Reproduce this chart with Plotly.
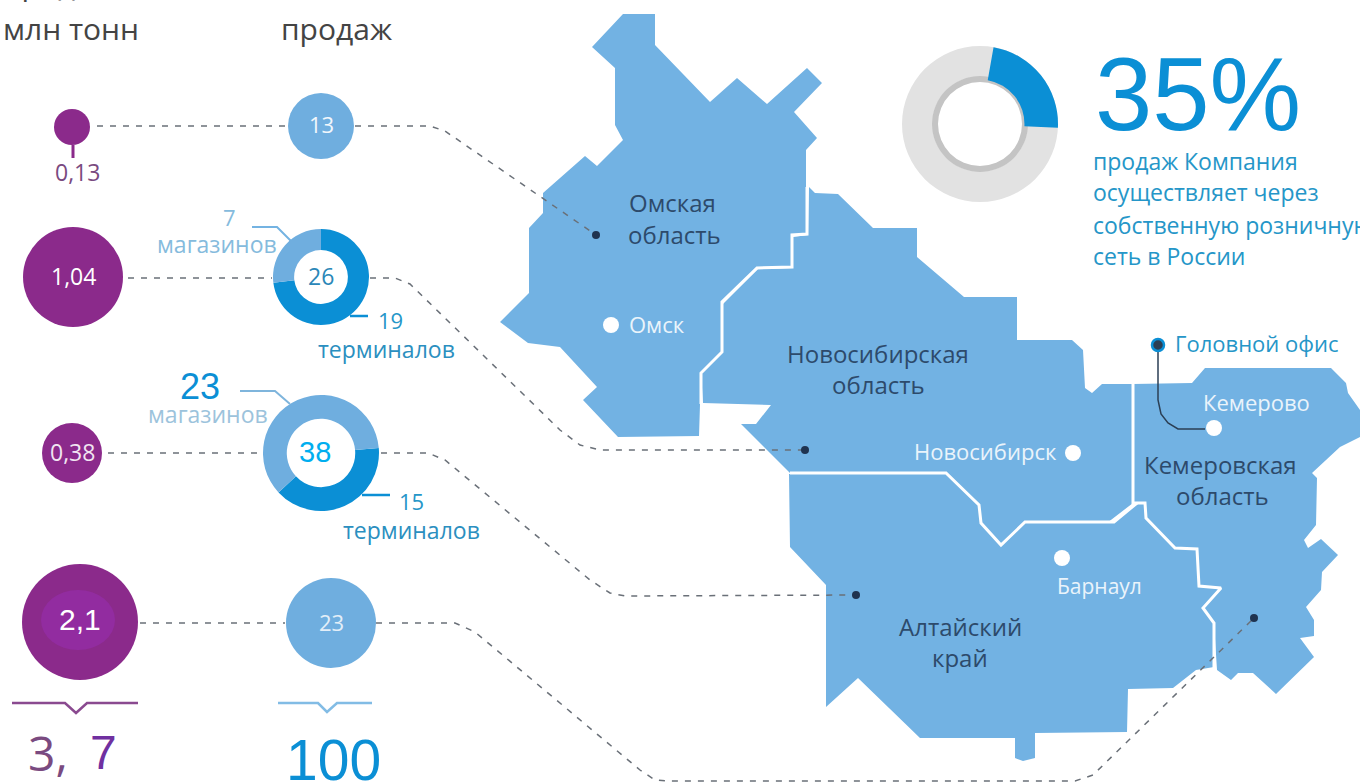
import plotly.graph_objects as go

W, H = 1360, 783

# ---------- values ----------
volume_labels = ["0,13", "1,04", "0,38", "2,1"]
sales_labels = ["13", "26", "38", "23"]
donut26_values = [19, 7]
donut38_values = [15, 23]
share_values = [23, 77]          # arc as drawn in the picture (labelled 35 %)

# ---------- colours ----------
MAP = "#72B2E3"
PURPLE = "#8B2A8B"
LIGHT = "#6FAEDF"
DARK = "#0B8FD5"
TEAL = "#2596C8"
NAVY = "#2D4A6B"

# ---------- map regions ----------
omsk_x = [623,655,655,710,737,767,807,822,794,817,806,806,792,792,757,722,722,701,699,618,583,597,560,528,500,529,529,543,543,585,597,623,615,615,592]
omsk_y = [14,14,45,102,78,104,68,83,112,138,150,233,235,267,268,302,352,373,436,437,400,387,347,343,322,293,228,213,193,156,166,140,125,68,47]

novo_x = [809,815,838,873,917,917,964,1017,1017,1072,1083,1085,1092,1102,1133,1133,1107,1025,999,978,976,942,790,741,756,771,703,701,722,722,758,793,793,808]
novo_y = [187,193,194,228,228,257,297,297,340,340,350,388,393,384,384,503,523,523,545,523,503,473,473,424,424,405,403,372,350,305,269,268,237,235]

altai_x = [789,790,826,826,858,920,1015,1015,1023,1035,1035,1127,1128,1173,1196,1214,1214,1203,1221,1199,1197,1175,1146,1145,1137,1114,1025,1001,981,979,946]
altai_y = [474,547,585,707,678,738,738,758,761,758,733,732,689,688,670,667,623,608,588,586,549,548,518,503,503,522,522,545,523,505,473]

kem_x = [1133,1192,1205,1331,1346,1348,1360,1360,1340,1312,1317,1316,1304,1308,1321,1338,1322,1321,1306,1314,1314,1300,1314,1276,1253,1238,1231,1217,1214,1203,1221,1199,1197,1175,1146,1145,1137,1133]
kem_y = [384,383,368,368,383,393,410,437,447,473,478,525,540,548,539,555,572,590,607,620,636,638,657,694,673,673,680,670,623,608,588,586,549,548,518,503,503,502]

regions = [(omsk_x, omsk_y), (novo_x, novo_y), (altai_x, altai_y), (kem_x, kem_y)]

# ---------- white borders between regions ----------
border_a_x = [807,807,792,792,757,722,722,701,701]
border_a_y = [187,234,235,267,268,302,352,373,404]
border_b_x = [790,946,979,981,1001,1025,1114,1137,1133,1133]
border_b_y = [473,473,505,523,545,522,522,503,503,384]
border_c_x = [1137,1145,1146,1175,1197,1199,1221,1203,1214,1214]
border_c_y = [503,503,518,548,549,586,588,608,623,668]
borders = [(border_a_x, border_a_y), (border_b_x, border_b_y), (border_c_x, border_c_y)]

# ---------- dashed connectors ----------
conn1_x = [97,288,None,355,430,445,596]
conn1_y = [126,126,None,126,126,131,235]
conn2_x = [128,272,None,370,395,410,560,580,600,805]
conn2_y = [278,278,None,278,278,284,430,445,450,450]
conn3_x = [108,262,None,381,428,445,590,610,625,856]
conn3_y = [453,453,None,453,453,460,580,593,596,595]
conn4_x = [140,285,None,376,455,475,640,655,670,1075,1093,1254]
conn4_y = [623,623,None,623,623,632,770,780,781,781,775,618]
connectors = [(conn1_x, conn1_y), (conn2_x, conn2_y), (conn3_x, conn3_y), (conn4_x, conn4_y)]

# ---------- small map dots ----------
pin_x = [596,805,856,1254]
pin_y = [235,450,595,618]
city_x = [611,1073,1062,1214]
city_y = [325,453,558,428]

# ---------- bubbles ----------
purple_x = [72,73,72,80]
purple_y = [127,277,453,622]
purple_d = [36,100,60,116]
blue_x = [321,331]
blue_y = [126,623]
blue_d = [66,90]

# ---------- leaders ----------
leaders = [
    ([73,73], [145,158], PURPLE, 3),
    ([252,277,292], [227,227,242], "#74B3E2", 2),
    ([350,368], [316,316], DARK, 2.5),
    ([240,275,290], [391,391,404], "#7FB5DC", 2),
    ([362,390], [495,495], DARK, 2.5),
    ([12,65,76,87,138], [703,703,713,703,703], "#8A4A90", 2.5),
    ([278,318,327,337,372], [703,703,712,703,703], "#82BCE5", 2.5),
    ([1158,1158,1161,1168,1178,1205], [345,400,414,423,429,429], "#2B3F55", 1.5),
]

# ---------- texts: text, x, y, size, colour, font ----------
OS = "Open Sans"
LS = "Liberation Sans"
texts = [
    ("млн тонн", 71, 28, 30, "#444444", OS),
    ("продаж", 336, 28, 30, "#444444", OS),
    (volume_labels[0], 77, 172, 23, "#7A4A80", OS),
    (volume_labels[1], 73, 276, 23, "#FFFFFF", OS),
    (volume_labels[2], 72, 452, 23, "#F1E4F1", OS),
    (volume_labels[3], 80, 619, 30, "#FFFFFF", LS),
    (sales_labels[0], 321, 124, 22, "#F2F7FC", OS),
    (sales_labels[1], 321, 276, 23, "#2B87B8", OS),
    (sales_labels[2], 315, 452, 29, "#00AEEF", LS),
    (sales_labels[3], 331, 622, 22, "#E3EEF8", OS),
    ("7", 229, 217, 22, "#85BBDD", OS),
    ("магазинов", 217, 244, 23, "#85BBDD", OS),
    ("19", 390, 320, 22, TEAL, OS),
    ("терминалов", 386, 349, 23, "#2B8FC0", OS),
    ("23", 200, 386, 36, DARK, LS),
    ("магазинов", 208, 414, 23, "#9CC3DC", OS),
    ("15", 411, 501, 22, TEAL, OS),
    ("терминалов", 411, 530, 23, "#2B8FC0", OS),
    ("3,", 48, 752, 48, "#7A4A80", OS),
    ("7", 103, 752, 48, "#7030A0", LS),
    ("100", 333, 760, 57, DARK, LS),
    ("35%", 1198, 94, 103, DARK, LS),
    ("Омская", 672, 202, 24, NAVY, OS),
    ("область", 674, 234, 24, NAVY, OS),
    ("Омск", 657, 324, 22, "#EAF4FB", OS),
    ("Новосибирская", 878, 353, 24, NAVY, OS),
    ("область", 878, 384, 24, NAVY, OS),
    ("Новосибирск", 985, 451, 22, "#EAF4FB", OS),
    ("Кемерово", 1256, 402, 22, "#EAF4FB", OS),
    ("Кемеровская", 1220, 464, 24, NAVY, OS),
    ("область", 1222, 495, 24, NAVY, OS),
    ("Барнаул", 1099, 586, 21, "#EAF4FB", OS),
    ("Алтайский", 960, 626, 24, NAVY, OS),
    ("край", 960, 657, 24, NAVY, OS),
    ("Головной офис", 1257, 343, 22, TEAL, OS),
]
body_lines = ["продаж Компания", "осуществляет через", "собственную розничную", "сеть в России"]
body_y = [161, 192, 225, 256]

fig = go.Figure()

for rx, ry in regions:
    fig.add_trace(go.Scatter(x=rx, y=ry, fill="toself", fillcolor=MAP, mode="none", hoverinfo="skip"))
for bx, by in borders:
    fig.add_trace(go.Scatter(x=bx, y=by, mode="lines", line=dict(color="white", width=3), hoverinfo="skip"))
for cx, cy in connectors:
    fig.add_trace(go.Scatter(x=cx, y=cy, mode="lines", line=dict(color="#6A7078", width=1.5, dash="6px,7px"), hoverinfo="skip"))
for lx, ly, col, w in leaders:
    fig.add_trace(go.Scatter(x=lx, y=ly, mode="lines", line=dict(color=col, width=w), hoverinfo="skip"))

fig.add_trace(go.Scatter(x=purple_x, y=purple_y, mode="markers", marker=dict(size=purple_d, color=PURPLE, opacity=1, line=dict(width=0)), hoverinfo="skip"))
fig.add_trace(go.Scatter(x=blue_x, y=blue_y, mode="markers", marker=dict(size=blue_d, color=LIGHT, opacity=1, line=dict(width=0)), hoverinfo="skip"))
fig.add_trace(go.Scatter(x=pin_x, y=pin_y, mode="markers", marker=dict(size=8, color="#1F3350"), hoverinfo="skip"))
fig.add_trace(go.Scatter(x=city_x, y=city_y, mode="markers", marker=dict(size=16, color="white"), hoverinfo="skip"))
fig.add_trace(go.Scatter(x=[1158], y=[345], mode="markers", marker=dict(size=12, color="#2B3F55", line=dict(color=DARK, width=2.5)), hoverinfo="skip"))


def dom(cx, cy, r):
    return dict(x=[(cx - r) / W, (cx + r) / W], y=[1 - (cy + r) / H, 1 - (cy - r) / H])


def pie(values, colors, cx, cy, r, hole, rotation=0):
    fig.add_trace(go.Pie(values=values, marker=dict(colors=colors, line=dict(width=0)),
                         domain=dom(cx, cy, r), hole=hole, sort=False, direction="clockwise",
                         rotation=rotation, textinfo="none", hoverinfo="skip", showlegend=False))


pie(donut26_values, [DARK, LIGHT], 321, 277, 48, 0.56)
pie(donut38_values, [DARK, LIGHT], 321, 453, 58, 0.59, rotation=85)
pie([1], ["#E2E2E2"], 980, 124, 78, 0.61)
pie([1], ["#C4C4C4"], 980, 124, 48, 0.875)
pie(share_values, [DARK, "rgba(0,0,0,0)"], 980, 124, 78, 0.57, rotation=10)

anns = []
for t, x, y, s, c, f in texts:
    anns.append(dict(text=t, x=x, y=y, xref="x", yref="y", showarrow=False, xanchor="center", yanchor="middle",
                     font=dict(size=s, color=c, family=f)))
for t, y in zip(body_lines, body_y):
    anns.append(dict(text=t, x=1091, y=y, xref="x", yref="y", showarrow=False, xanchor="left", yanchor="middle",
                     font=dict(size=23, color=TEAL, family=OS)))
for t, x in [("продажи,", 72), ("Каналы", 336)]:
    anns.append(dict(text=t, x=x / W, y=1, xref="paper", yref="paper", yshift=-6, showarrow=False,
                     xanchor="center", yanchor="bottom", font=dict(size=30, color="#444444", family=OS)))

fig.update_layout(
    width=W, height=H, margin=dict(l=0, r=0, t=0, b=0), showlegend=False,
    paper_bgcolor="white", plot_bgcolor="white", annotations=anns,
    xaxis=dict(range=[0, W], visible=False, fixedrange=True),
    yaxis=dict(range=[H, 0], visible=False, fixedrange=True),
    shapes=[dict(type="circle", xref="x", yref="y", x0=41, x1=115, y0=590, y1=650, fillcolor="#922CA0",
                 line=dict(width=0), layer="above")],
)
fig.write_html("out.html", config=dict(displayModeBar=False),
               post_script="document.body.style.margin='0';document.documentElement.style.overflow='hidden';")
